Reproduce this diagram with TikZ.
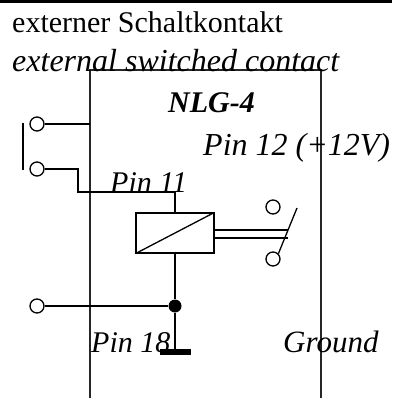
\documentclass[tikz,border=0pt]{standalone}
\usepackage{fontspec}
\setmainfont{Liberation Serif}
\begin{document}
\begin{tikzpicture}[x=1pt,y=-1pt,
  term/.style={circle,draw,line width=1.3pt,minimum size=14pt,inner sep=0pt,fill=white},
  wire/.style={line width=2.8pt},
  thin/.style={line width=1.3pt},
  lbl/.style={anchor=base west,inner sep=0pt,font=\fontsize{30}{33}\selectfont\itshape},
  lblr/.style={anchor=base west,inner sep=0pt,font=\fontsize{30}{33}\selectfont}]
\useasboundingbox (0,0) rectangle (392,398);
% top rule
\draw[line width=3pt] (0,1.5) -- (392,1.5);
% module box
\coordinate (bl) at (90,398);
\coordinate (tl) at (90,70);
\coordinate (tr) at (321,70);
\coordinate (br) at (321,398);
\draw[thin,black!85] (bl) -- (tl) -- (tr) -- (br);
% texts
\node[lblr] (t1) at (12,33) {externer Schaltkontakt};
\node[lbl,font=\fontsize{32}{35}\selectfont\itshape] (t2) at (12,72) {external switched contact};
\node[lbl,font=\fontsize{30}{33}\selectfont\bfseries\itshape] (t3) at (168,113) {NLG-4};
\node[lbl,font=\fontsize{32}{35}\selectfont\itshape] (t4) at (203,155) {Pin 12 (+12V)};
\node[lbl] (t5) at (110,192) {Pin 11};
\node[lbl] (t6) at (91,352) {Pin 18};
\node[lbl,font=\fontsize{31}{34}\selectfont\itshape] (t7) at (283,352) {Ground};
% external contact
\node[term] (c1) at (37,124) {};
\node[term] (c2) at (37,169) {};
\node[term] (c3) at (37,306) {};
\coordinate (bar1) at (23,123);
\coordinate (bar2) at (23,170);
\draw[wire] (bar1) -- (bar2);
\coordinate (j1) at (90,124);
\draw[wire] (c1) -- (j1);
% relay
\node[draw,thin,minimum width=78pt,minimum height=40pt,inner sep=0pt] (rel) at (175,233) {};
\draw[thin] (rel.south west) -- (rel.north east);
\coordinate (k1) at (78,169);
\coordinate (k2) at (78,192);
\coordinate (k3) at (175,192);
\draw[wire] (c2) -- (k1) -- (k2) -- (k3) -- (rel.north);
\node[circle,fill,minimum size=13pt,inner sep=0pt] (dot) at (175,306) {};
\coordinate (gnd) at (175,352);
\draw[wire] (rel.south) -- (dot) -- (gnd);
\draw[wire] (c3) -- (dot);
\coordinate (g1) at (160,352);
\coordinate (g2) at (191,352);
\draw[line width=6pt] (g1) -- (g2);
% mechanical link
\coordinate (m1) at (288,230);
\coordinate (m2) at (288,238);
\draw[wire] (rel.east |- m1) -- (m1);
\draw[wire] (rel.east |- m2) -- (m2);
% relay switch
\node[term] (s1) at (273,207) {};
\node[term] (s2) at (273,259) {};
\coordinate (blade) at (297,208);
\draw[thin] (s2.north east) -- (blade);
\end{tikzpicture}
\end{document}
